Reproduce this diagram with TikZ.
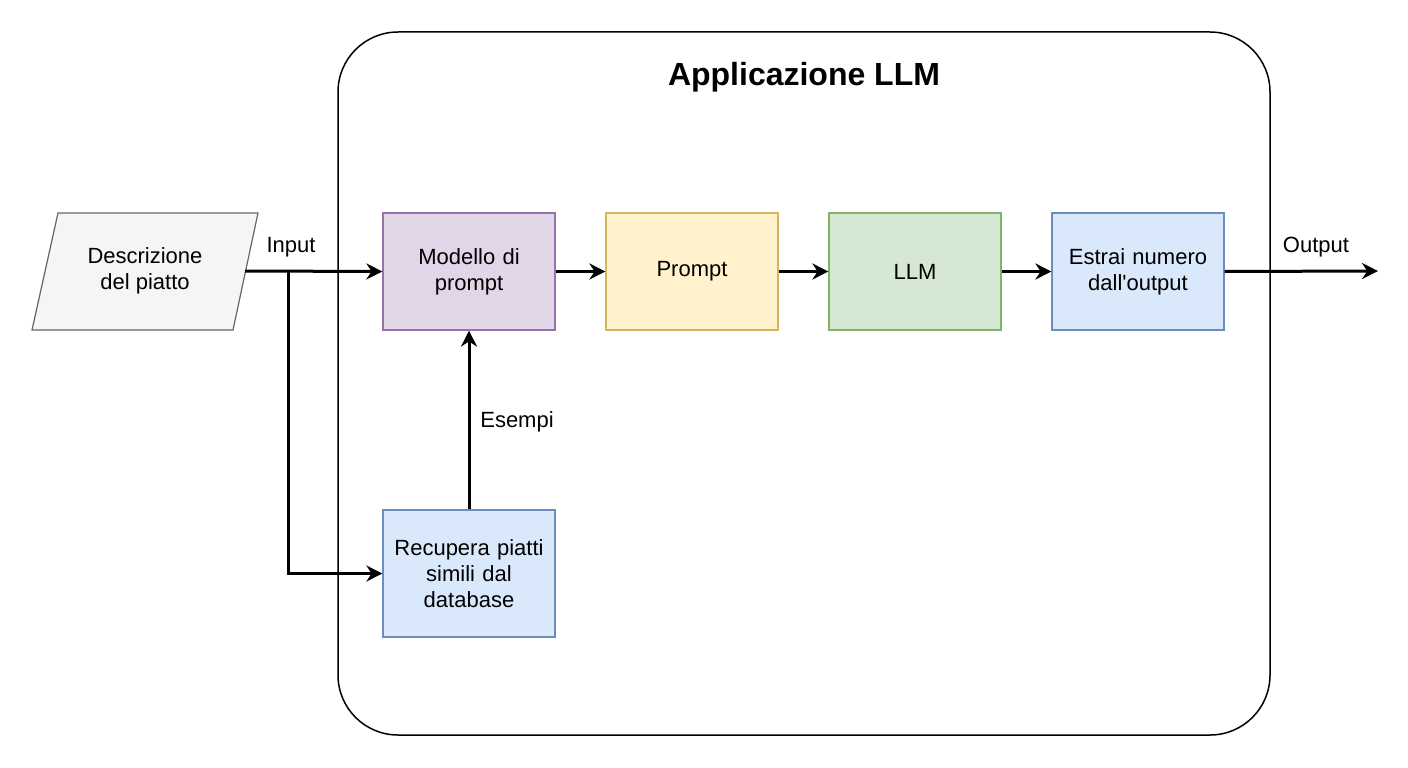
\documentclass[tikz,border=0pt]{standalone}
\usepackage{fontspec}
\setmainfont{Liberation Sans}
\usetikzlibrary{arrows.meta}
\definecolor{pf}{HTML}{E1D5E7}\definecolor{pd}{HTML}{9673A6}
\definecolor{yf}{HTML}{FFF2CC}\definecolor{yd}{HTML}{D6B656}
\definecolor{gf}{HTML}{D5E8D4}\definecolor{gd}{HTML}{82B366}
\definecolor{bf}{HTML}{DAE8FC}\definecolor{bd}{HTML}{6C8EBF}
\definecolor{sf}{HTML}{F5F5F5}\definecolor{sd}{HTML}{666666}
\begin{document}
\begin{tikzpicture}[x=1pt,y=-1pt,
 txt/.style={font=\fontsize{22}{26}\selectfont,align=center},
 box/.style={draw,line width=1.2pt,minimum width=172pt,minimum height=117pt,txt,text width=165pt,inner sep=0pt},
 arr/.style={line width=3pt,-{Stealth[length=16pt,width=16pt]}}]
\useasboundingbox (0,0) rectangle (1408,768);
\draw[line width=1.5pt,rounded corners=60pt] (338,32) rectangle (1270,735);
\node[font=\bfseries\fontsize{32}{38}\selectfont] (t) at (804,77) {Applicazione LLM};
\draw[sd,fill=sf,line width=1.2pt] (58,213)--(258,213)--(233,330)--(32,330)--cycle;
\node[txt] (d) at (145,271) {Descrizione\\del piatto};
\coordinate (din) at (245,271);
\node[box,draw=pd,fill=pf] (m) at (469,271.5) {Modello di\\prompt};
\node[box,draw=yd,fill=yf] (p) at (692,271.5) {Prompt};
\node[box,draw=gd,fill=gf] (l) at (915,271.5) {LLM};
\node[box,draw=bd,fill=bf] (e) at (1138,271.5) {Estrai numero\\dall\textquotesingle output};
\node[box,draw=bd,fill=bf,minimum height=127pt] (r) at (469,573.5) {Recupera piatti\\simili dal\\database};
\coordinate (br) at (288,271);
\coordinate (o) at (1378,271);
\draw[arr] (din)--(m.west);
\draw[arr] (br)|-(r.west);
\draw[arr] (r.north)--(m.south);
\draw[arr] (m.east)--(p.west);
\draw[arr] (p.east)--(l.west);
\draw[arr] (l.east)--(e.west);
\draw[arr] (e.east)--(o);
\node[txt] (li) at (291,247) {Input};
\node[txt] (le) at (517,422) {Esempi};
\node[txt] (lo) at (1316,247) {Output};
\end{tikzpicture}
\end{document}
